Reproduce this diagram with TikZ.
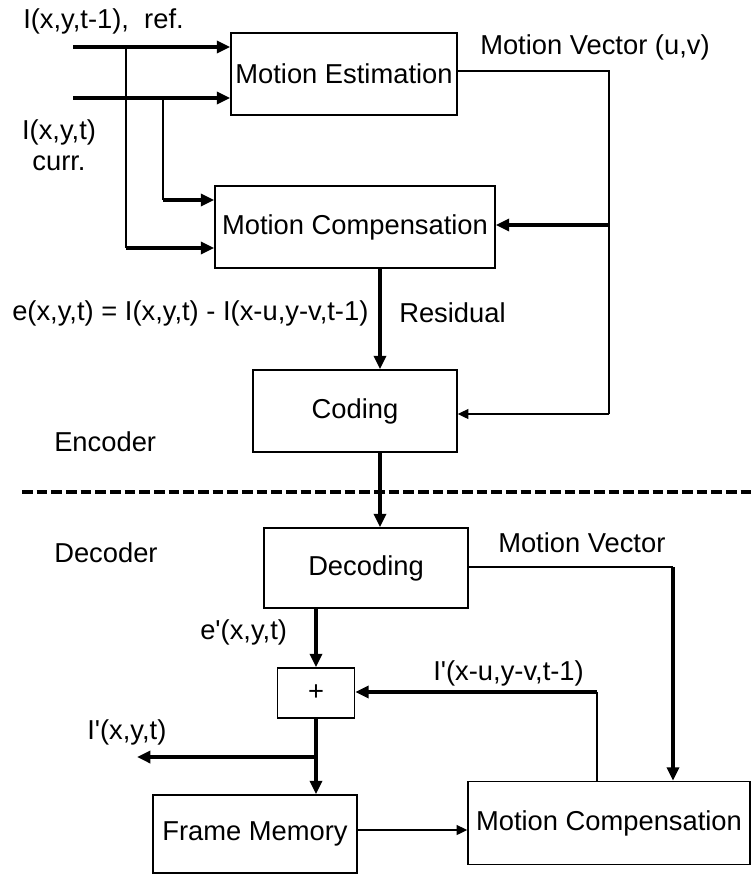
\documentclass[tikz,border=0pt]{standalone}
\usepackage{fontspec}
\setmainfont{Liberation Sans}
\usetikzlibrary{arrows.meta}
\begin{document}
\begin{tikzpicture}[x=0.75pt,y=-0.75pt,
  font=\fontsize{20.5}{23.5}\selectfont,
  box/.style={draw,line width=1.2pt,inner sep=0pt,rectangle},
  lthin/.style={line width=1.1pt},
  lthick/.style={line width=3pt},
  tipa/.style={-{Triangle[length=10pt,width=9pt]}},
  tipb/.style={-{Triangle[length=8pt,width=7.5pt]}},
  lbl/.style={anchor=west,inner sep=0pt}]
\useasboundingbox (0,0) rectangle (753,876);
% boxes
\node[box,minimum width=169.5pt,minimum height=61.5pt] (me) at (344,74) {Motion Estimation};
\node[box,minimum width=210pt,minimum height=61.5pt] (mc) at (355,227) {Motion Compensation};
\node[box,minimum width=153pt,minimum height=61.5pt] (cod) at (355,411) {Coding};
\node[box,minimum width=153pt,minimum height=60pt] (dec) at (366,568) {Decoding};
\node[box,minimum width=57.75pt,minimum height=37.5pt] (plus) at (316,693) {+};
\node[box,minimum width=153pt,minimum height=58.5pt] (fm) at (255,834) {Frame Memory};
\node[box,minimum width=211.5pt,minimum height=62.25pt] (mc2) at (609,823) {Motion Compensation};
% labels
\node[lbl] (t1) at (23,21) {I(x,y,t-1),\ \ ref.};
\node[align=center,inner sep=0pt] (t2) at (59,145) {I(x,y,t)\\curr.};
\node[lbl] (t3) at (480,47) {Motion Vector (u,v)};
\node[lbl] (t4) at (12,313) {e(x,y,t) = I(x,y,t) - I(x-u,y-v,t-1)};
\node[lbl] (t5) at (399,313) {Residual};
\node[lbl] (t6) at (54,442) {Encoder};
\node[lbl] (t7) at (54,553) {Decoder};
\node[lbl] (t8) at (498,543) {Motion Vector};
\node[lbl] (t9) at (200,632) {e\textquotesingle(x,y,t)};
\node[lbl] (t10) at (433,673) {I\textquotesingle(x-u,y-v,t-1)};
\node[lbl] (t11) at (87,732) {I\textquotesingle(x,y,t)};
% inputs
\coordinate (in1) at (73,47);
\coordinate (in2) at (73,98);
\draw[lthick,tipa] (in1) -- (in1 -| me.west);
\draw[lthick,tipa] (in2) -- (in2 -| me.west);
\coordinate (j1) at (126,47);
\coordinate (j1b) at (126,248);
\coordinate (j2) at (163,98);
\coordinate (j2b) at (163,200);
\draw[lthin] (j1) -- (j1b);
\draw[lthin] (j2) -- (j2b);
\draw[lthick,tipa] (j1b) -- (j1b -| mc.west);
\draw[lthick,tipa] (j2b) -- (j2b -| mc.west);
% motion vector (encoder)
\coordinate (mv1) at (609,71);
\coordinate (mv2) at (609,225);
\coordinate (mv3) at (609,414);
\draw[lthin] (mv1 -| me.east) -- (mv1) -- (mv3);
\draw[lthin,tipb] (mv3) -- (mv3 -| cod.east);
\draw[lthick,tipa] (mv2) -- (mv2 -| mc.east);
% residual and coding output
\coordinate (r) at (380,0);
\draw[lthick,tipa] (r |- mc.south) -- (r |- cod.north);
\draw[lthick,tipa] (r |- cod.south) -- (r |- dec.north);
% separator
\coordinate (d1) at (22,492);
\coordinate (d2) at (753,492);
\draw[lthick,dash pattern=on 8pt off 3pt] (d1) -- (d2);
% decoder
\coordinate (dm1) at (673,567);
\draw[lthin] (dm1 -| dec.east) -- (dm1);
\draw[lthick,tipa] (dm1) -- (dm1 |- mc2.north);
\coordinate (e1) at (316,0);
\draw[lthick,tipa] (e1 |- dec.south) -- (e1 |- plus.north);
\coordinate (ip) at (597,692);
\draw[lthin] (ip |- mc2.north) -- (ip);
\draw[lthick,tipa] (ip) -- (ip -| plus.east);
\draw[lthick,tipa] (e1 |- plus.south) -- (e1 |- fm.north);
\coordinate (br) at (316,757);
\coordinate (brend) at (137,757);
\draw[lthick,tipa] (br) -- (brend);
\coordinate (fmy) at (0,830);
\draw[lthin,tipb] (fm.east |- fmy) -- (mc2.west |- fmy);
\end{tikzpicture}
\end{document}
